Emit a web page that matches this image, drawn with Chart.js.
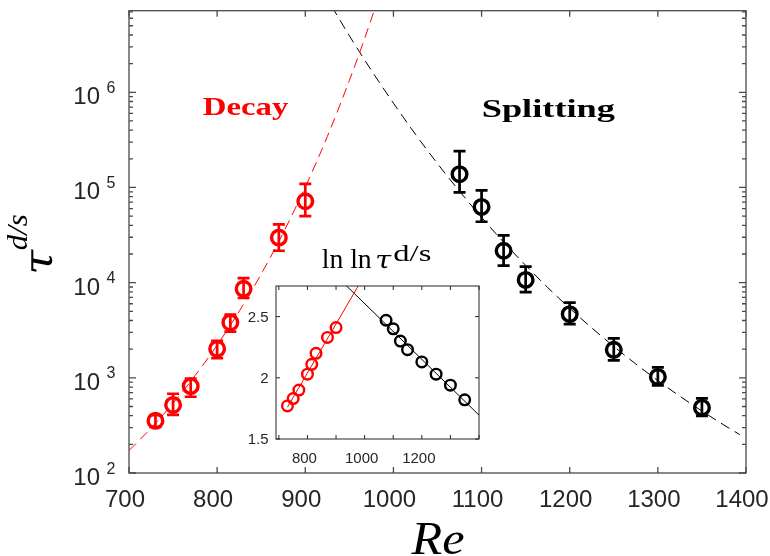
<!DOCTYPE html>
<html><head><meta charset="utf-8">
<script src="https://cdn.jsdelivr.net/npm/chart.js@4.4.0/dist/chart.umd.min.js"></script>
<style>
html,body{margin:0;padding:0;background:#fff;}
#wrap{position:relative;width:770px;height:556px;background:#fff;}
#main{position:absolute;left:0;top:0;}
#inset{position:absolute;left:230px;top:236px;}
</style></head><body>
<div id="wrap"><canvas id="main" width="770" height="556"></canvas><canvas id="inset" width="260" height="232"></canvas></div>
<script>
// ---------- data ----------
const decayRe   = [730, 750, 770, 800, 815, 830, 870, 900];
const decayTau  = [353, 519, 818, 2018, 3816, 8616, 29740, 71660];
const decayLow  = [305, 408, 633, 1611, 3055, 6900, 21630, 50000];
const decayHigh = [405, 680, 984, 2444, 4623, 11140, 40900, 109200];

const splitRe   = [1075, 1100, 1125, 1150, 1200, 1250, 1300, 1350];
const splitTau  = [137800, 62520, 21630, 10690, 4667, 1969, 1022, 486];
const splitLow  = [88900, 43650, 15100, 7960, 3673, 1525, 832, 399];
const splitHigh = [241000, 93300, 31420, 14750, 6165, 2602, 1289, 609];

const decayFitRe  = [700, 725, 750, 775, 800, 825, 850, 875, 900, 925, 950, 965, 980];
const decayFitTau = [172, 296, 541, 1056, 2208, 4995, 12330, 33450, 101000, 343000, 1330000, 3190000, 8100000];
const splitFitRe  = [930, 950, 975, 1000, 1025, 1050, 1075, 1100, 1125, 1150, 1175, 1200, 1225, 1250, 1275, 1300, 1325, 1350, 1375, 1393];
const splitFitTau = [7990000, 3930000, 1700000, 769000, 362000, 178000, 91300, 48500, 26660, 15200, 8900, 5380, 3346, 2136, 1397, 936, 640, 448, 319, 253];

// inset: ln ln tau
const insetDecay = [1.77, 1.83, 1.90, 2.03, 2.11, 2.20, 2.33, 2.41];
const insetSplit = [2.47, 2.40, 2.30, 2.23, 2.13, 2.03, 1.94, 1.82];
const insetDecayFitRe = [730, 990];
const insetDecayFit   = [1.76, 2.80];
const insetSplitFitRe = [930, 1400];
const insetSplitFit   = [2.766, 1.695];

// tick labels
const xTicks = [700, 800, 900, 1000, 1100, 1200, 1300, 1400];
const yTicks = [1e2, 1e3, 1e4, 1e5, 1e6];
const yTickExp = ['2', '3', '4', '5', '6'];
const insetXTicks = [700, 800, 900, 1000, 1100, 1200, 1300, 1400];
const insetXLabels = [800, 1000, 1200];
const insetYTicks = [1.5, 2, 2.5];
const insetYLabels = ['1.5', '2', '2.5'];

const RED = '#ff0000', BLACK = '#000000', AX = '#4a4a4a', TXT = '#262626';
const SANS = '"Liberation Sans", Arial, sans-serif';
const SERIF = '"Liberation Serif", "Times New Roman", serif';
const GREEK = '"DejaVu Serif", serif';

const pts = (xs, ys) => xs.map((x, i) => ({x: x, y: ys[i]}));

function stext(ctx, text, x, y, font, color, width, skew) {
  ctx.save();
  ctx.font = font; ctx.fillStyle = color;
  ctx.textAlign = 'left'; ctx.textBaseline = 'alphabetic';
  const m = ctx.measureText(text).width;
  ctx.translate(x, y);
  if (skew) ctx.transform(1, 0, -skew, 1, 0, 0);
  if (width) ctx.scale(width / m, 1);
  ctx.fillText(text, 0, 0);
  ctx.restore();
}

function errBars(ctx, sx, sy, xs, lo, hi, color, cap, lw) {
  ctx.save();
  ctx.strokeStyle = color; ctx.lineWidth = lw; ctx.lineCap = 'butt';
  for (let i = 0; i < xs.length; i++) {
    const px = sx.getPixelForValue(xs[i]);
    const y1 = sy.getPixelForValue(lo[i]);
    const y2 = sy.getPixelForValue(hi[i]);
    ctx.beginPath();
    ctx.moveTo(px, y1); ctx.lineTo(px, y2);
    ctx.moveTo(px - cap, y1); ctx.lineTo(px + cap, y1);
    ctx.moveTo(px - cap, y2); ctx.lineTo(px + cap, y2);
    ctx.stroke();
  }
  ctx.restore();
}

const mainDecor = {
  id: 'mainDecor',
  afterDatasetsDraw(chart) {
    const ctx = chart.ctx, sx = chart.scales.x, sy = chart.scales.y;
    errBars(ctx, sx, sy, decayRe, decayLow, decayHigh, RED, 6, 2.7);
    errBars(ctx, sx, sy, splitRe, splitLow, splitHigh, BLACK, 6, 2.7);
  },
  afterDraw(chart) {
    const ctx = chart.ctx, a = chart.chartArea, sx = chart.scales.x, sy = chart.scales.y;
    ctx.save();
    ctx.strokeStyle = AX; ctx.lineWidth = 1.3;
    ctx.strokeRect(a.left, a.top, a.right - a.left, a.bottom - a.top);
    ctx.beginPath();
    xTicks.forEach(v => {
      const px = sx.getPixelForValue(v);
      ctx.moveTo(px, a.bottom); ctx.lineTo(px, a.bottom - 6);
      ctx.moveTo(px, a.top); ctx.lineTo(px, a.top + 6);
    });
    for (let k = 2; k <= 6; k++) {
      for (let m = 1; m <= 9; m++) {
        const v = m * Math.pow(10, k);
        if (v > sy.max) continue;
        const py = sy.getPixelForValue(v);
        const len = m === 1 ? 7 : 4;
        ctx.moveTo(a.left, py); ctx.lineTo(a.left + len, py);
        ctx.moveTo(a.right, py); ctx.lineTo(a.right - len, py);
      }
    }
    ctx.stroke();
    ctx.restore();

    // tick labels
    ctx.save();
    ctx.fillStyle = TXT;
    ctx.font = '24px ' + SANS; ctx.textAlign = 'center'; ctx.textBaseline = 'alphabetic';
    xTicks.forEach(v => ctx.fillText(String(v), sx.getPixelForValue(v) - 4, 506.5));
    yTicks.forEach((v, i) => {
      const py = sy.getPixelForValue(v);
      ctx.font = '24px ' + SANS; ctx.textAlign = 'right';
      ctx.fillText('10', 100, py + 12);
      ctx.font = '16px ' + SANS; ctx.textAlign = 'left';
      ctx.fillText(yTickExp[i], 106.5, py + 0.5);
    });
    ctx.restore();

    // axis labels
    stext(ctx, 'Re', 411.5, 554, 'italic 46px ' + SERIF, '#000', 53);
    ctx.save();
    ctx.translate(51.7, 276.7);
    ctx.rotate(-Math.PI / 2);
    stext(ctx, '\u03C4', 0, 0, '40px ' + GREEK, '#000', 25, 0.2);
    stext(ctx, 'd/s', 26.5, -25, 'italic 30px ' + SERIF, '#000', 36);
    ctx.restore();

    // annotations
    stext(ctx, 'Decay', 202.7, 114.5, 'bold 26px ' + SERIF, RED, 85.6);
    stext(ctx, 'Splitting', 481.7, 116.5, 'bold 26px ' + SERIF, BLACK, 133.3);
  }
};

new Chart(document.getElementById('main'), {
  type: 'scatter',
  data: { datasets: [
    { type: 'line', data: pts(decayFitRe, decayFitTau), borderColor: RED, borderWidth: 1,
      borderDash: [10, 6], pointRadius: 0, fill: false, cubicInterpolationMode: 'monotone' },
    { type: 'line', data: pts(splitFitRe, splitFitTau), borderColor: BLACK, borderWidth: 1,
      borderDash: [10, 6], pointRadius: 0, fill: false, cubicInterpolationMode: 'monotone' },
    { data: pts(decayRe, decayTau), showLine: false, pointStyle: 'circle', pointRadius: 7.3,
      pointBorderWidth: 3.4, pointBorderColor: RED, pointBackgroundColor: 'rgba(0,0,0,0)' },
    { data: pts(splitRe, splitTau), showLine: false, pointStyle: 'circle', pointRadius: 7.3,
      pointBorderWidth: 3.4, pointBorderColor: BLACK, pointBackgroundColor: 'rgba(0,0,0,0)' }
  ]},
  options: {
    responsive: false, animation: false, devicePixelRatio: 1,
    layout: { padding: { left: 129, top: 6, right: 24, bottom: 83 } },
    plugins: { legend: { display: false }, tooltip: { enabled: false } },
    events: [],
    scales: {
      x: { type: 'linear', min: 700, max: 1400, display: false },
      y: { type: 'logarithmic', min: 100, max: 7.2e6, display: false }
    }
  },
  plugins: [mainDecor]
});

// ---------- inset ----------
const insetDecor = {
  id: 'insetDecor',
  beforeDatasetsDraw(chart) {
    const ctx = chart.ctx, a = chart.chartArea;
    ctx.save(); ctx.fillStyle = '#fff';
    ctx.fillRect(a.left, a.top, a.right - a.left, a.bottom - a.top);
    ctx.restore();
  },
  afterDraw(chart) {
    const ctx = chart.ctx, a = chart.chartArea, sx = chart.scales.x, sy = chart.scales.y;
    ctx.save();
    ctx.strokeStyle = TXT; ctx.lineWidth = 1;
    ctx.strokeRect(a.left, a.top, a.right - a.left, a.bottom - a.top);
    ctx.beginPath();
    insetXTicks.forEach(v => {
      const px = sx.getPixelForValue(v);
      ctx.moveTo(px, a.bottom); ctx.lineTo(px, a.bottom - 4);
      ctx.moveTo(px, a.top); ctx.lineTo(px, a.top + 4);
    });
    insetYTicks.forEach(v => {
      const py = sy.getPixelForValue(v);
      ctx.moveTo(a.left, py); ctx.lineTo(a.left + 4, py);
      ctx.moveTo(a.right, py); ctx.lineTo(a.right - 4, py);
    });
    ctx.stroke();
    ctx.fillStyle = TXT;
    ctx.font = '15px ' + SANS; ctx.textBaseline = 'alphabetic';
    ctx.textAlign = 'center';
    insetXLabels.forEach(v => ctx.fillText(String(v), sx.getPixelForValue(v) - 3, 227.3));
    ctx.textAlign = 'right';
    insetYTicks.forEach((v, i) => ctx.fillText(insetYLabels[i], 38.5, sy.getPixelForValue(v) + 5.3));
    ctx.restore();

    // title: ln ln tau^{d/s}
    stext(ctx, 'ln ln', 91.7, 32.3, '28px ' + SERIF, '#000', 50);
    stext(ctx, '\u03C4', 144, 32.3, '25px ' + GREEK, '#000', 16, 0.2);
    stext(ctx, 'd/s', 163.3, 24.7, '24px ' + SERIF, '#000', 38);
  }
};

new Chart(document.getElementById('inset'), {
  type: 'scatter',
  data: { datasets: [
    { type: 'line', data: pts(insetDecayFitRe, insetDecayFit), borderColor: RED, borderWidth: 1,
      pointRadius: 0, fill: false },
    { type: 'line', data: pts(insetSplitFitRe, insetSplitFit), borderColor: BLACK, borderWidth: 1,
      pointRadius: 0, fill: false },
    { data: pts(decayRe, insetDecay), showLine: false, pointStyle: 'circle', pointRadius: 5.3,
      pointBorderWidth: 2.4, pointBorderColor: RED, pointBackgroundColor: 'rgba(0,0,0,0)' },
    { data: pts(splitRe, insetSplit), showLine: false, pointStyle: 'circle', pointRadius: 5.3,
      pointBorderWidth: 2.4, pointBorderColor: BLACK, pointBackgroundColor: 'rgba(0,0,0,0)' }
  ]},
  options: {
    responsive: false, animation: false, devicePixelRatio: 1,
    layout: { padding: { left: 46, top: 50, right: 11, bottom: 29 } },
    plugins: { legend: { display: false }, tooltip: { enabled: false } },
    events: [],
    scales: {
      x: { type: 'linear', min: 690, max: 1400, display: false },
      y: { type: 'linear', min: 1.5, max: 2.75, display: false }
    }
  },
  plugins: [insetDecor]
});
</script>
</body></html>
